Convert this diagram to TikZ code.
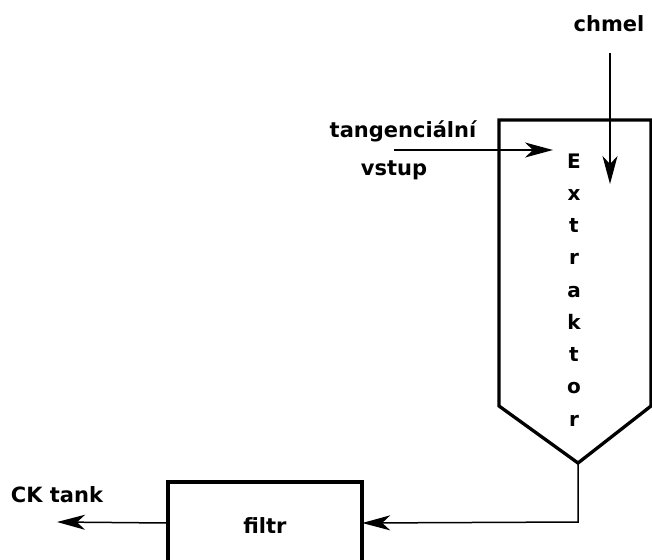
\documentclass[tikz,border=0pt]{standalone}
\usepackage{fontspec}
\setmainfont{DejaVu Sans}
\usetikzlibrary{arrows.meta}
\begin{document}
\begin{tikzpicture}[x=1pt,y=-1pt,
  lbl/.style={font=\bfseries\fontsize{21}{25}\selectfont, inner sep=0pt, anchor=base},
  vessel/.style={line width=3.3pt, line join=miter},
  flow/.style={line width=1.5pt, -{Stealth[length=28pt,width=15pt,inset=8pt]}}]
\useasboundingbox (0,0) rectangle (652,559);
% extractor vessel
\draw[vessel] (499,406) -- (499,120) -- (651,120) -- (651,406) -- (578,463) -- cycle;
\coordinate (exbot) at (578,463);
\foreach \l [count=\i from 0] in {E,x,t,r,a,k,t,o,r}
  \node[lbl, font=\bfseries\fontsize{20}{24}\selectfont] (ex\i) at (574,168+32.25*\i) {\l};
% filter box
\draw[vessel] (168,600) -- (168,482) -- (362,482) -- (362,600);
\node[minimum width=194pt, minimum height=82pt, inner sep=0pt] (filtr) at (265,523) {};
\node[lbl] (filtrlbl) at (265,533) {filtr};
% labels
\node[lbl] (chmel) at (609,32) {chmel};
\node[lbl] (tang) at (403,137) {tangenciální};
\node[lbl] (vstup) at (394,175) {vstup};
\node[lbl] (ck) at (57,502) {CK tank};
% flows
\coordinate (chs) at (610,53);
\coordinate (che) at (610,184);
\draw[flow] (chs) -- (che);
\coordinate (tgs) at (394,150);
\coordinate (tge) at (553,150);
\draw[flow] (tgs) -- (tge);
\coordinate (corner) at (578,522);
\draw[flow] (exbot) -- (corner) -- (filtr.east);
\coordinate (ckend) at (57,522);
\draw[flow] (filtr.west) -- (ckend);
\end{tikzpicture}
\end{document}
